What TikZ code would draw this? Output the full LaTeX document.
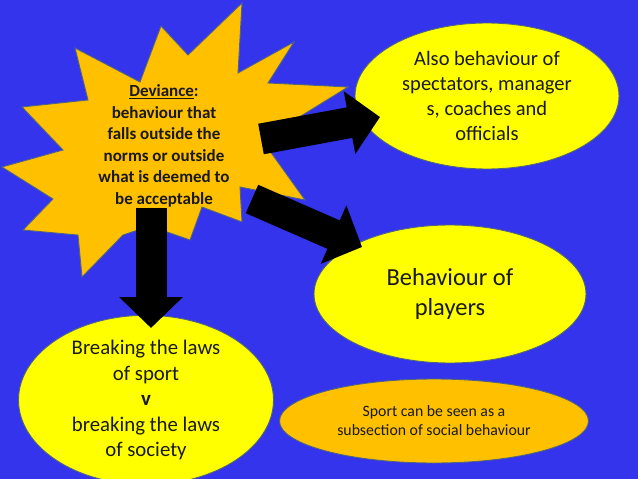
\documentclass[tikz,border=0pt]{standalone}
\usepackage{fontspec}
\setmainfont{Carlito}
\usetikzlibrary{shapes.geometric,arrows.meta}
\definecolor{bgblue}{RGB}{52,52,236}
\definecolor{starorange}{RGB}{255,192,0}
\definecolor{ellyellow}{RGB}{255,255,0}
\definecolor{edgecol}{RGB}{80,100,130}
\definecolor{txt}{RGB}{25,25,25}
\tikzset{
  elly/.style={ellipse, draw=edgecol, line width=0.9pt, fill=ellyellow, inner sep=0pt, align=center, text=txt},
  blockarrow/.style={line width=31pt, black, line cap=butt, -{Triangle[width=62pt,length=31pt]}},
}
\begin{document}
\begin{tikzpicture}[x=1pt,y=-1pt]
\fill[bgblue] (0,0) rectangle (638,479);
\useasboundingbox (0,0) rectangle (638,479);
% starburst
\filldraw[fill=starorange, draw=edgecol, line width=0.9pt, line join=miter]
 (242,3) -- (238,73) -- (294,42) -- (268,83) -- (348,87) -- (262,140) -- (305,200)
 -- (240,187) -- (242,222) -- (202,207) -- (190,240) -- (150,226) -- (123,235)
 -- (82,277) -- (78,235) -- (23,230) -- (53,199) -- (2,167) -- (63,150)
 -- (22,107) -- (88,100) -- (75,48) -- (140,82) -- (161,26) -- (188,55) -- cycle;
\node[align=center, text=txt, font=\fontsize{17}{21.5}\selectfont\bfseries] (dev) at (164,146)
 {\underline{Deviance}:\\behaviour that\\falls outside the\\norms or outside\\what is deemed to\\be acceptable};
% ellipses
\node[elly, minimum width=264pt, minimum height=146pt, font=\fontsize{20.5}{25}\selectfont] (spec) at (487,96)
 {Also behaviour of\\spectators, manager\\s, coaches and\\officials};
\node[elly, minimum width=272pt, minimum height=138pt, font=\fontsize{24.5}{30}\selectfont] (play) at (450,294)
 {Behaviour of\\players};
\node[elly, minimum width=255pt, minimum height=154pt, font=\fontsize{20.8}{25.5}\selectfont] (laws) at (146,400)
 {Breaking the laws\\of sport\\\textbf{v}\\breaking the laws\\of society};
\node[elly, fill=starorange, minimum width=309pt, minimum height=84pt, font=\fontsize{15.8}{19}\selectfont] (sub) at (434,421)
 {Sport can be seen as a\\subsection of social behaviour};
% arrows
\coordinate (a1s) at (261,139);
\coordinate (a1t) at (380,117);
\coordinate (a2s) at (252,199);
\coordinate (a2t) at (362,247);
\coordinate (a3s) at (151,208);
\coordinate (a3t) at (151,328);
\draw[blockarrow] (a1s) -- (a1t);
\draw[blockarrow] (a2s) -- (a2t);
\draw[blockarrow] (a3s) -- (a3t);
\end{tikzpicture}
\end{document}
